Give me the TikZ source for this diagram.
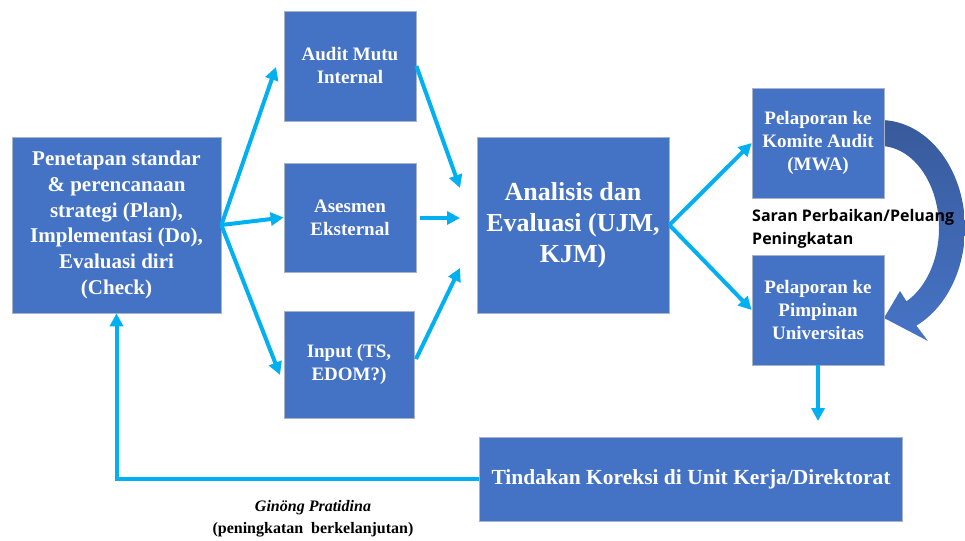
\documentclass[tikz,border=0pt]{standalone}
\usepackage{fontspec}
\setmainfont{Liberation Serif}
\newfontfamily\sanf{Open Sans}
\usetikzlibrary{arrows.meta}
\definecolor{boxblue}{HTML}{4472C4}
\definecolor{boxline}{HTML}{A9B3C6}
\definecolor{cyanarrow}{HTML}{00B0F0}
\definecolor{curvetop}{HTML}{385A9B}
\definecolor{curvebot}{HTML}{4674C6}
\begin{document}
\begin{tikzpicture}[x=1pt,y=-1pt,
  box/.style={fill=boxblue,draw=boxline,line width=0.7pt,text=white,align=center,inner sep=0pt},
  flow/.style={draw=cyanarrow,line width=4pt,-{Triangle[width=13pt,length=13pt]}}]
\useasboundingbox (0,0) rectangle (965,540);
\fill[white] (0,0) rectangle (965,540);
% curved arrow
\shade[top color=curvetop,bottom color=curvebot]
  plot[domain=88:-64.7,samples=60] ({880+85*cos(\x)},{228-108*sin(\x)})
  -- (928,341) -- (884,318) -- (900,291)
  -- plot[domain=-63.4:88,samples=60] ({880+59*cos(\x)},{228-82*sin(\x)}) -- cycle;
% boxes
\node[box,minimum width=209pt,minimum height=176pt,font=\bfseries\fontsize{21}{25.7}\selectfont] (L) at (116.5,225)
  {Penetapan standar\\ \& perencanaan\\ strategi (Plan),\\ Implementasi (Do),\\ Evaluasi diri\\ (Check)};
\node[box,minimum width=132pt,minimum height=110pt,font=\bfseries\fontsize{19}{23}\selectfont] (A) at (350,66) {Audit Mutu\\ Internal};
\node[box,minimum width=132pt,minimum height=109pt,font=\bfseries\fontsize{19}{23}\selectfont] (E) at (350,217.5) {Asesmen\\ Eksternal};
\node[box,minimum width=130pt,minimum height=107pt,font=\bfseries\fontsize{19}{23}\selectfont] (I) at (349,364.5) {Input (TS,\\ EDOM?)};
\node[box,minimum width=192pt,minimum height=176pt,font=\bfseries\fontsize{26}{31}\selectfont] (An) at (573,225) {Analisis dan\\ Evaluasi (UJM,\\ KJM)};
\node[box,minimum width=132pt,minimum height=110pt,font=\bfseries\fontsize{19}{23}\selectfont] (K) at (818,143) {Pelaporan ke\\ Komite Audit\\ (MWA)};
\node[box,minimum width=132pt,minimum height=110pt,font=\bfseries\fontsize{19}{23}\selectfont] (P) at (818,310) {Pelaporan ke\\ Pimpinan\\ Universitas};
\node[box,minimum width=423pt,minimum height=84pt,font=\bfseries\fontsize{21.5}{25}\selectfont] (T) at (691,479) {Tindakan Koreksi di Unit Kerja/Direktorat};
% labels
\node[font=\sanf\bfseries\fontsize{16}{23}\selectfont,align=left,anchor=west,inner sep=0pt] (S) at (752,229) {Saran Perbaikan/Peluang\\ Peningkatan};
\node[font=\bfseries\fontsize{16}{22}\selectfont,align=center,inner sep=0pt] (G) at (313,519) {\textit{Ginöng Pratidina}\\ (peningkatan\ \ berkelanjutan)};
% coordinates
\coordinate (a1) at (276,67);
\coordinate (a3) at (280,375);
\coordinate (b1) at (460,188);
\coordinate (b2s) at (420,218);
\coordinate (b2) at (460,218);
\coordinate (b3s) at (416,359);
\coordinate (b3) at (460,268);
\coordinate (c1) at (818,421);
% connectors
\draw[flow] (L.east) -- (a1);
\draw[flow] (L.east) -- (E.west);
\draw[flow] (L.east) -- (a3);
\draw[flow] (A.east) -- (b1);
\draw[flow] (b2s) -- (b2);
\draw[flow] (b3s) -- (b3);
\draw[flow] (An.east) -- (K.west);
\draw[flow] (An.east) -- (P.west);
\draw[flow] (P.south) -- (c1);
\draw[flow] (T.west) -- (T.west -| L.south) -- (L.south);
\end{tikzpicture}
\end{document}
